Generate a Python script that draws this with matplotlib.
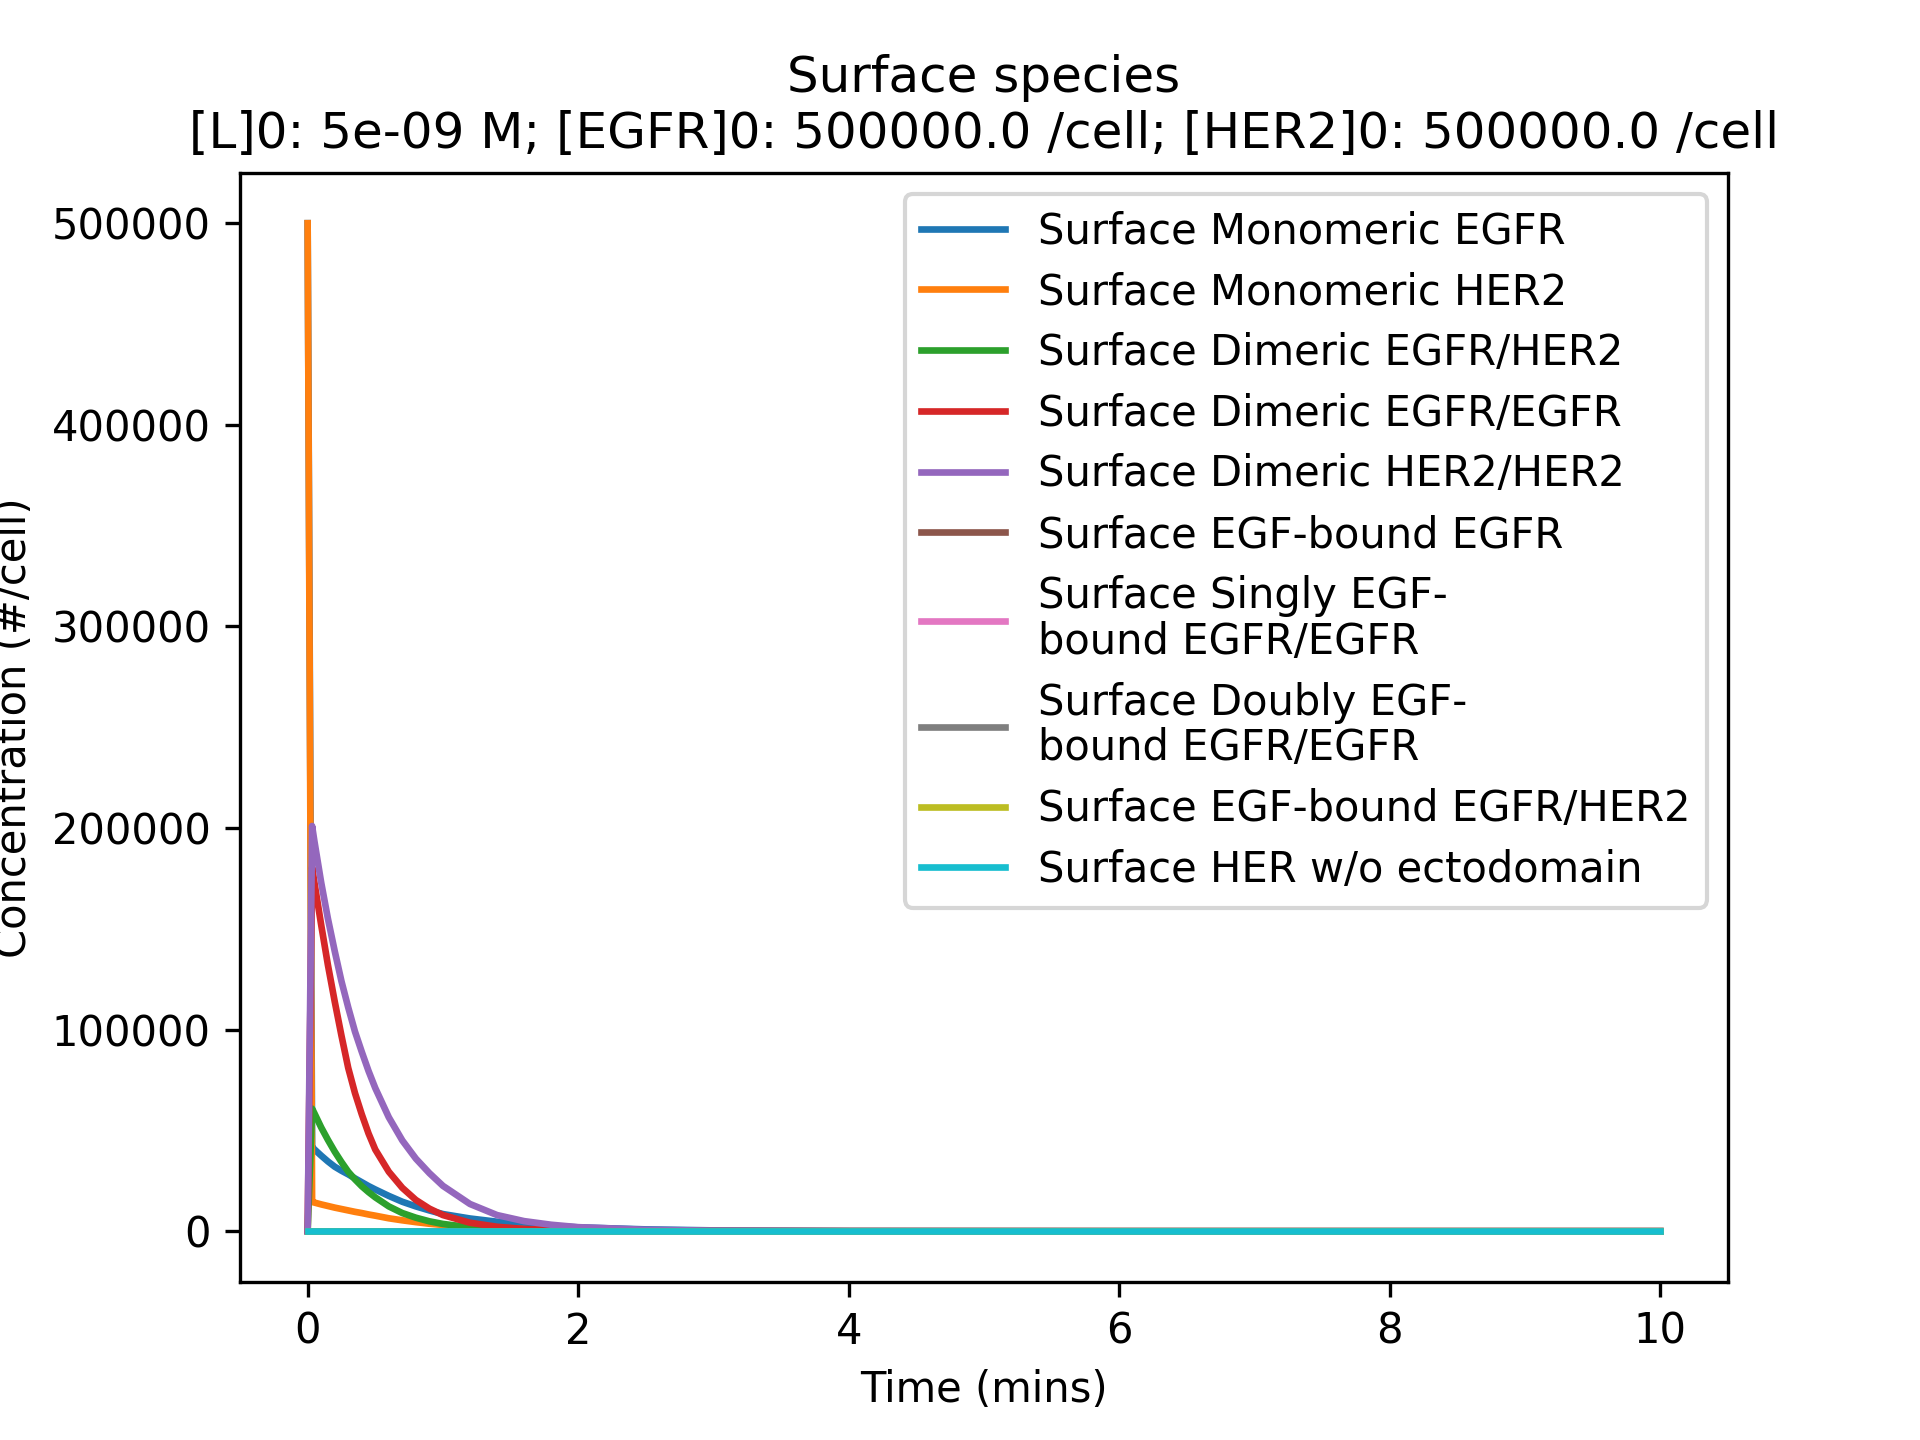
import matplotlib
matplotlib.use("Agg")
import matplotlib.pyplot as plt

time_min = [0, 0.033, 0.05, 0.1, 0.15, 0.2, 0.25, 0.3, 0.35, 0.4, 0.45, 0.5, 0.6, 0.7, 0.8, 0.9, 1.0,
            1.2, 1.4, 1.6, 1.8, 2.0, 2.5, 3.0, 4.0, 6.0, 8.0, 10.0]

mono_egfr = [500000, 41800, 40600, 37500, 34600, 32000, 30000, 28200, 26200, 24300, 22400, 20700,
             17500, 14600, 12300, 10300, 8500, 6300, 4700, 3500, 2600, 1900, 900, 400, 80, 5, 0, 0]
mono_her2 = [500000, 14500, 14200, 13300, 12500, 11700, 11000, 10300, 9600, 9000, 8300, 7700,
             6400, 5400, 4500, 3700, 3100, 2200, 1500, 1000, 700, 500, 200, 80, 15, 0, 0, 0]
dimer_egfr_her2 = [0, 60800, 58500, 51500, 45300, 39500, 34300, 29500, 25700, 22300, 19400, 16800,
                   12300, 9000, 6700, 4900, 3600, 1900, 1000, 550, 300, 150, 30, 5, 0, 0, 0, 0]
dimer_egfr_egfr = [0, 180500, 173000, 152000, 132000, 114000, 97000, 81000, 68500, 58000, 48500, 40500,
                   29500, 21500, 15500, 11200, 8000, 4200, 2200, 1100, 600, 300, 60, 10, 0, 0, 0, 0]
dimer_her2_her2 = [0, 201000, 193500, 173000, 155000, 139000, 124000, 111000, 99000, 89000, 79500, 71000,
                   56500, 45000, 36000, 28800, 22500, 13500, 8000, 5000, 3200, 2000, 700, 250, 50, 0, 0, 0]
egf_egfr = [0] * len(time_min)
single_egf_dimer = [0] * len(time_min)
double_egf_dimer = [0] * len(time_min)
egf_egfr_her2 = [0] * len(time_min)
her_no_ecto = [0] * len(time_min)

labels = [
    "Surface Monomeric EGFR",
    "Surface Monomeric HER2",
    "Surface Dimeric EGFR/HER2",
    "Surface Dimeric EGFR/EGFR",
    "Surface Dimeric HER2/HER2",
    "Surface EGF-bound EGFR",
    "Surface Singly EGF-\nbound EGFR/EGFR",
    "Surface Doubly EGF-\nbound EGFR/EGFR",
    "Surface EGF-bound EGFR/HER2",
    "Surface HER w/o ectodomain",
]
series = [mono_egfr, mono_her2, dimer_egfr_her2, dimer_egfr_egfr, dimer_her2_her2,
          egf_egfr, single_egf_dimer, double_egf_dimer, egf_egfr_her2, her_no_ecto]

fig, ax = plt.subplots(figsize=(6.4, 4.8), dpi=300)
for vals, lab in zip(series, labels):
    ax.plot(time_min, vals, label=lab, lw=1.6)

ax.set_title("Surface species\n[L]0: 5e-09 M; [EGFR]0: 500000.0 /cell; [HER2]0: 500000.0 /cell")
ax.set_xlabel("Time (mins)")
ax.set_ylabel("Concentration (#/cell)")
leg = ax.legend(loc="upper right", labelspacing=0.45)
for t in leg.get_texts():
    t.set_linespacing(1.12)
fig.savefig("out.png", dpi=300)
